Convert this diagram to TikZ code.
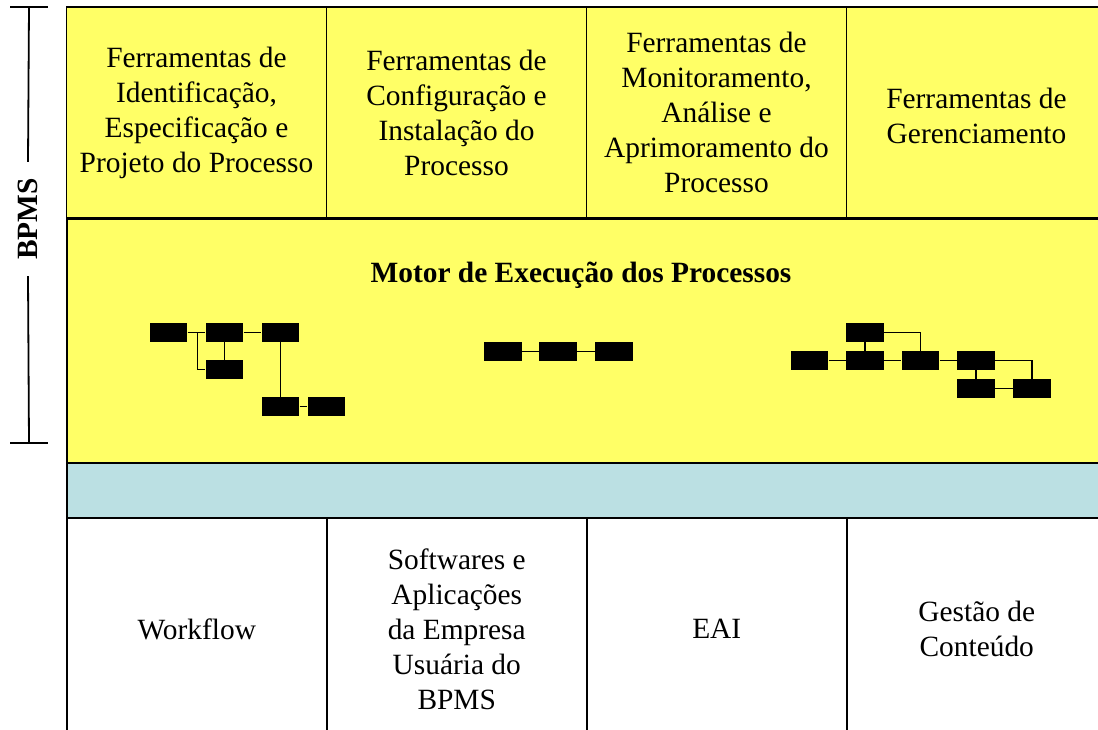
\documentclass[tikz,border=0pt]{standalone}
\usepackage{fontspec}
\setmainfont{Liberation Serif}
\definecolor{bpmyellow}{RGB}{255,255,102}
\definecolor{bpmblue}{RGB}{187,224,227}
\tikzset{
  cell/.style={draw=black, line width=0.75pt, inner sep=0pt, align=center, minimum width=130pt},
  tool/.style={cell, fill=bpmyellow, minimum height=105.5pt},
  base/.style={cell, fill=white, minimum height=111.5pt, anchor=north west},
  proc/.style={fill=black, inner sep=0pt, minimum width=18.75pt, minimum height=9.5pt},
  link/.style={line width=0.6pt},
}
\begin{document}
\begin{tikzpicture}[x=0.5pt,y=-0.5pt,font=\fontsize{14.7}{17.5}\selectfont]
\clip (0,0) rectangle (1098,729);
% ferramentas
\node[tool] (ident) at (196.5,112.5) {Ferramentas de\\Identificação,\\Especificação e\\Projeto do Processo};
\node[tool] (config) at (456.5,112.5) {Ferramentas de\\Configuração e\\Instalação do\\Processo};
\node[tool] (monit) at (716.5,112.5) {Ferramentas de\\Monitoramento,\\Análise e\\Aprimoramento do\\Processo};
\node[tool] (geren) at (976.5,112.5) {\\[-4pt]Ferramentas de\\Gerenciamento};
% motor
\node[cell, fill=bpmyellow, minimum width=520.5pt, minimum height=122pt, anchor=north west] (motor) at (66,218) {};
\node[font=\fontsize{14.7}{17.5}\selectfont\bfseries] (motortitle) at (581,275) {Motor de Execução dos Processos};
\node[cell, fill=bpmblue, line width=1pt, minimum width=520.5pt, minimum height=27.5pt, anchor=north west] (integ) at (66,462) {};
% base
\node[base] (wf) at (66,517) {Workflow};
\node[base] (soft) at (326,517) {Softwares e\\Aplicações\\da Empresa\\Usuária do\\BPMS};
\node[base] (eai) at (586,517) {EAI};
\node[base] (gestao) at (846,517) {Gestão de\\Conteúdo};

% processo 1
\node[proc] (a1) at (168.5,332.5) {};
\node[proc] (a2) at (224.5,332.5) {};
\node[proc] (a3) at (280.5,332.5) {};
\node[proc] (a4) at (224.5,369.5) {};
\node[proc] (a5) at (280.5,406.5) {};
\node[proc] (a6) at (326.5,406.5) {};
\draw[link] (a1) -- (a2);
\draw[link] (a2) -- (a3);
\draw[link] (a2) -- (a4);
\draw[link] (a3) -- (a5);
\draw[link] (a5) -- (a6);
\draw[link] (a1.east) -- ++(10,0) |- (a4.west);
% processo 2
\node[proc] (b1) at (503,351.5) {};
\node[proc] (b2) at (558,351.5) {};
\node[proc] (b3) at (614,351.5) {};
\draw[link] (b1) -- (b2);
\draw[link] (b2) -- (b3);
% processo 3
\node[proc] (c1) at (865,332.5) {};
\node[proc] (c2) at (809.5,360.5) {};
\node[proc] (c3) at (865,360.5) {};
\node[proc] (c4) at (920.5,360.5) {};
\node[proc] (c5) at (976,360.5) {};
\node[proc] (c6) at (976,388.5) {};
\node[proc] (c7) at (1032,388.5) {};
\draw[link] (c2) -- (c3);
\draw[link] (c3) -- (c4);
\draw[link] (c4) -- (c5);
\draw[link] (c1) -- (c3);
\draw[link] (c1.east) -| (c4.north);
\draw[link] (c5.east) -| (c7.north);
\draw[link] (c5) -- (c6);
\draw[link] (c6) -- (c7);

% chave BPMS
\coordinate (bt) at (29,7);
\coordinate (bb) at (29,443);
\node[font=\fontsize{14.7}{17.5}\selectfont\bfseries, rotate=90, inner xsep=8pt] (bpms) at (28,219) {BPMS};
\draw[line width=0.9pt] (bt) -- (bpms.east);
\draw[line width=0.9pt] (bpms.west) -- (bb);
\draw[line width=0.9pt] ([xshift=-9.5pt]bt) -- ([xshift=9.5pt]bt);
\draw[line width=0.9pt] ([xshift=-9.5pt]bb) -- ([xshift=9.5pt]bb);
\end{tikzpicture}
\end{document}
